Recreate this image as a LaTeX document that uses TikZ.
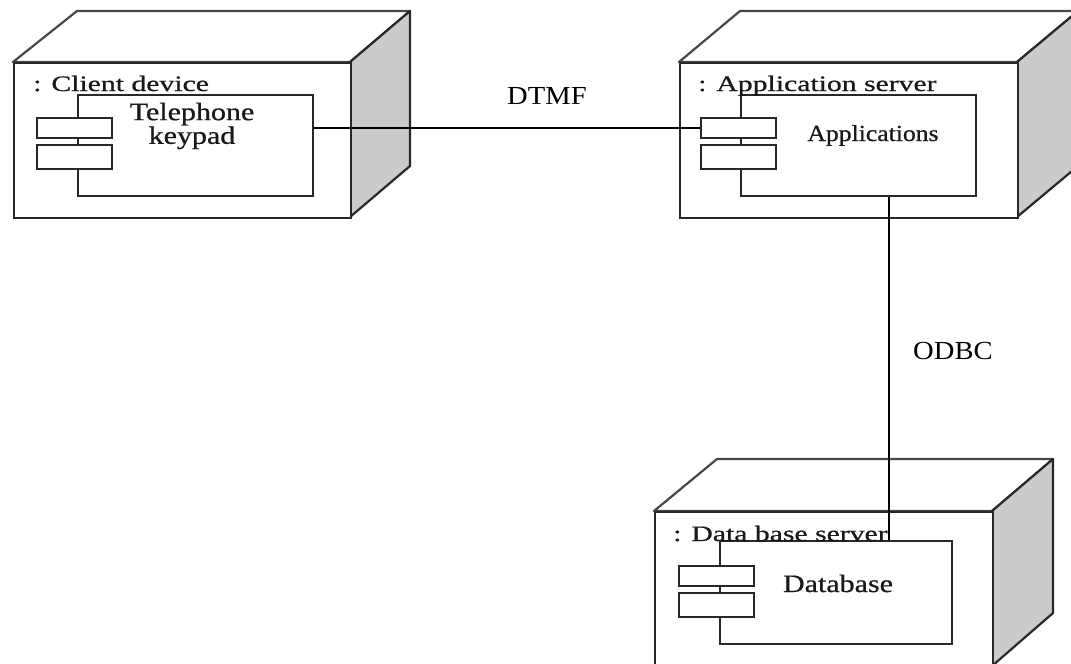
\documentclass[tikz,border=0pt]{standalone}
\usepackage{fontspec}
\setmainfont{Liberation Serif}
\newfontfamily\lblfont{Liberation Serif}[FakeBold=0.6]
\definecolor{edge}{HTML}{282828}
\definecolor{side}{HTML}{CBCBCB}
\begin{document}
\begin{tikzpicture}[x=1pt,y=-1pt,
  facefront/.style={draw=edge,line width=2.2pt,fill=white,inner sep=0pt,anchor=north west},
  facetop/.style={draw=edge!85,line width=2.2pt,fill=white,line join=round},
  faceside/.style={draw=edge,line width=2.2pt,fill=side,line join=round},
  comp/.style={draw=edge,line width=2pt,fill=white,inner sep=0pt,anchor=north west},
  port/.style={draw=edge,line width=2pt,fill=white,inner sep=0pt,anchor=north west,minimum width=75pt},
  conn/.style={draw=black,line width=1.8pt},
  nodelbl/.style={inner sep=0pt,anchor=base west,xscale=1.35,transform shape,text=black!90,font=\lblfont\fontsize{22}{24}\selectfont},
  compname/.style={inner sep=0pt,xscale=1.2,transform shape,text=black!90,align=center,font=\lblfont\fontsize{25}{22}\selectfont},
  connlbl/.style={inner sep=0pt,anchor=base west,xscale=1.1,transform shape,font=\fontsize{26}{28}\selectfont}]
\useasboundingbox (0,0) rectangle (1071,664);

% ---- Client device node ----
\draw[facetop] (13,62) -- (77,11) -- (410,11) -- (350,62) -- cycle;
\draw[faceside] (350,62) -- (410,11) -- (410,166) -- (350,217) -- cycle;
\node[facefront,minimum width=337pt,minimum height=155pt] (cd) at (13,62) {};
\node[comp,minimum width=235pt,minimum height=101pt] (tk) at (77,94) {};
\node[port,minimum height=20pt] (tk1) at (36,117) {};
\node[port,minimum height=24pt] (tk2) at (36,144) {};
\node[nodelbl] (cdl) at (33,91) {: Client device};
\node[compname] (tkl) at (192,126) {Telephone\\keypad};

% ---- Application server node ----
\draw[facetop] (679,62) -- (740,11) -- (1078,11) -- (1017,62) -- cycle;
\draw[faceside] (1017,62) -- (1078,11) -- (1078,166) -- (1017,217) -- cycle;
\node[facefront,minimum width=338pt,minimum height=155pt] (as) at (679,62) {};
\node[comp,minimum width=235pt,minimum height=101pt] (ap) at (740,94) {};
\node[port,minimum height=20pt] (ap1) at (700,117) {};
\node[port,minimum height=24pt] (ap2) at (700,144) {};
\node[nodelbl] (asl) at (698,91) {: Application server};
\node[compname,xscale=0.93,font=\lblfont\fontsize{23}{24}\selectfont,anchor=base] (apl) at (873,141) {Applications};

% ---- Data base server node ----
\draw[facetop] (654,511) -- (717,459) -- (1053,459) -- (992,511) -- cycle;
\draw[faceside] (992,511) -- (1053,459) -- (1053,613) -- (992,666) -- cycle;
\node[facefront,minimum width=338pt,minimum height=155pt] (ds) at (654,511) {};
\node[comp,minimum width=232pt,minimum height=103pt] (db) at (719,540) {};
\node[port,minimum height=20pt] (db1) at (678,565) {};
\node[port,minimum height=24pt] (db2) at (678,592) {};
\node[nodelbl] (dsl) at (673,541) {: Data base server};
\node[compname,anchor=base] (dbl) at (838,592) {Database};

% ---- connectors ----
\draw[conn] (tk.east |- ap1.west) -- (ap1.west);
\draw[conn] ([xshift=30.5pt]ap.south) -- ([xshift=30.5pt]ap.south |- db.north);
\node[connlbl] (dtmf) at (507,104) {DTMF};
\node[connlbl] (odbc) at (913,359) {ODBC};
\end{tikzpicture}
\end{document}
